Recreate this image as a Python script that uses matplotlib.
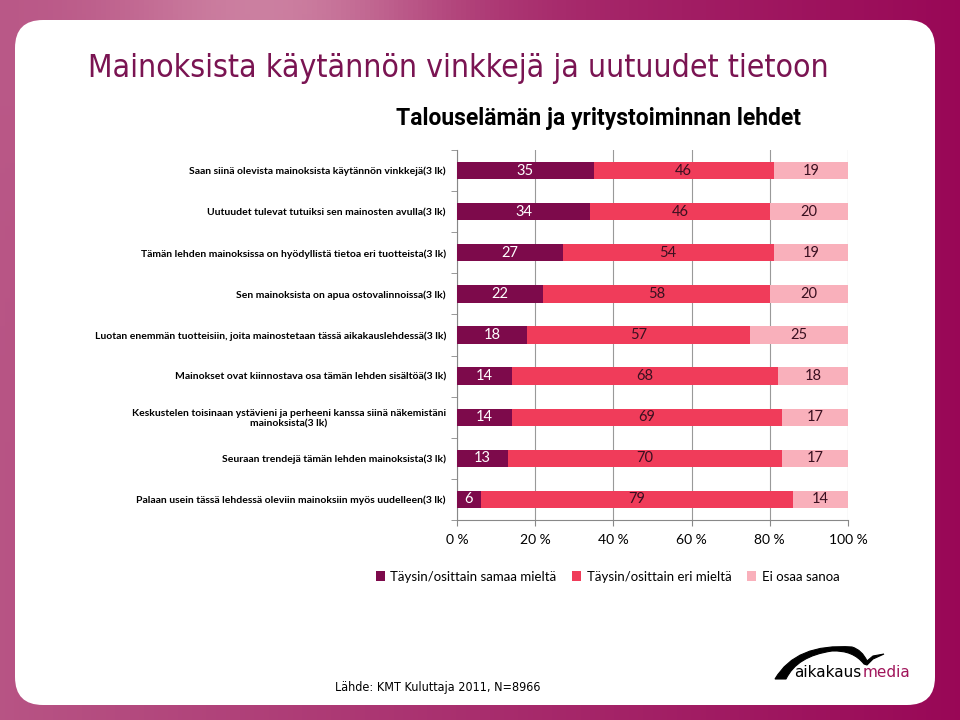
import numpy as np
import matplotlib
matplotlib.use("Agg")
import matplotlib.pyplot as plt
from matplotlib.patches import FancyBboxPatch, PathPatch
from matplotlib.path import Path

categories = [
    "Saan siinä olevista mainoksista käytännön vinkkejä(3 lk)",
    "Uutuudet tulevat tutuiksi sen mainosten avulla(3 lk)",
    "Tämän lehden mainoksissa on hyödyllistä tietoa eri tuotteista(3 lk)",
    "Sen mainoksista on apua ostovalinnoissa(3 lk)",
    "Luotan enemmän tuotteisiin, joita mainostetaan tässä aikakauslehdessä(3 lk)",
    "Mainokset ovat kiinnostava osa tämän lehden sisältöä(3 lk)",
    "Keskustelen toisinaan ystävieni ja perheeni kanssa siinä näkemistäni\nmainoksista(3 lk)",
    "Seuraan trendejä tämän lehden mainoksista(3 lk)",
    "Palaan usein tässä lehdessä oleviin mainoksiin myös uudelleen(3 lk)",
]
agree = [35, 34, 27, 22, 18, 14, 14, 13, 6]
disagree = [46, 46, 54, 58, 57, 68, 69, 70, 79]
dunno = [19, 20, 19, 20, 25, 18, 17, 17, 14]
series_names = ["Täysin/osittain samaa mieltä", "Täysin/osittain eri mieltä", "Ei osaa sanoa"]
xticklabels = ["0 %", "20 %", "40 %", "60 %", "80 %", "100 %"]

colors = ["#7d0a4b", "#f03c5a", "#f9b0bb"]
txtcolors = ["white", "#3a1020", "#3a1020"]

FONT = "Lato"
W, H = 960, 720
fig = plt.figure(figsize=(9.6, 7.2), dpi=100)

# background gradient
bg = fig.add_axes([0, 0, 1, 1])
bg.set_xlim(0, W); bg.set_ylim(H, 0); bg.axis("off")
xx, yy = np.meshgrid(np.linspace(0, 1, 200), np.linspace(0, 1, 150))
light = np.array([0.80, 0.50, 0.63])
mid = np.array([0.72, 0.33, 0.52])
dark = np.array([0.60, 0.03, 0.34])
t = np.clip(xx, 0, 1)
base = mid[None, None, :] * (1 - t[..., None]) + dark[None, None, :] * t[..., None]
spot = np.exp(-(((xx - 0.27) / 0.18) ** 2 + ((yy - 0.0) / 0.35) ** 2))
img = base * (1 - spot[..., None]) + light[None, None, :] * spot[..., None]
bg.imshow(img, extent=[0, W, H, 0], aspect="auto", zorder=0)
panel = FancyBboxPatch((15, 20), 920, 685, boxstyle="round,pad=0,rounding_size=28",
                       fc="white", ec="none", zorder=1)
bg.add_patch(panel)

fig.text(88 / W, 1 - 68 / H, "Mainoksista käytännön vinkkejä ja uutuudet tietoon",
         fontsize=22.9, color="#7a1452", family="DejaVu Sans", fontstretch="condensed",
         va="center", ha="left")
fig.text(598 / W, 1 - 118 / H, "Talouselämän ja yritystoiminnan lehdet",
         fontsize=16.5, fontweight="bold", color="black", family="Roboto",
         va="center", ha="center")

ax = fig.add_axes([457 / W, 1 - 520 / H, 391 / W, 370 / H])
n = len(categories)
ypos = np.arange(n)
totals = np.array(agree) + np.array(disagree) + np.array(dunno)
left = np.zeros(n)
for vals, c, tc, name in zip([agree, disagree, dunno], colors, txtcolors, series_names):
    v = np.array(vals, dtype=float)
    w = v / totals * 100
    ax.barh(ypos, w, left=left, height=0.42, color=c, label=name, zorder=3)
    for i in range(n):
        ax.text(left[i] + w[i] / 2, ypos[i], str(vals[i]), ha="center", va="center",
                fontsize=10.5, color=tc, family=FONT, zorder=4)
    left = left + w

ax.set_xlim(0, 100)
ax.set_ylim(n - 0.5, -0.5)
ax.set_xticks([0, 20, 40, 60, 80, 100])
ax.set_xticklabels(xticklabels, fontsize=10, family=FONT)
ax.set_yticks(ypos)
ax.set_yticklabels(categories, fontsize=7.5, family=FONT, fontweight="bold")
for lab in ax.get_yticklabels():
    lab.set_horizontalalignment("right")
    lab.set_multialignment("center")
ax.tick_params(axis="y", length=0, pad=8)
ax.set_yticks(np.arange(-0.5, n, 1), minor=True)
ax.tick_params(axis="y", which="minor", length=4, color="#888888", direction="out")
ax.tick_params(axis="x", length=4, color="#888888", pad=6)
ax.grid(axis="x", color="#999999", linewidth=0.8, zorder=0)
for s in ["top", "right"]:
    ax.spines[s].set_visible(False)
for s in ["left", "bottom"]:
    ax.spines[s].set_color("#888888")

ax.legend(loc="upper center", bbox_to_anchor=(0.385, -0.105), ncol=3, frameon=False,
          prop={"family": FONT, "size": 9.5}, handlelength=0.7, handleheight=0.7,
          columnspacing=1.2, handletextpad=0.4)

fig.text(335 / W, 1 - 688 / H, "Lähde: KMT Kuluttaja 2011, N=8966", fontsize=9,
         family="DejaVu Sans", fontstretch="condensed", va="center", ha="left")

# logo swoosh
verts = [(775, 679), (796, 643), (852, 647), (862, 650), (867, 661),
         (873, 656), (884, 654), (873, 659), (867, 665),
         (864, 664), (853, 650), (832, 651), (797, 656), (786, 679), (775, 679)]
codes = [Path.MOVETO, Path.CURVE3, Path.CURVE3, Path.CURVE3, Path.CURVE3,
         Path.LINETO, Path.LINETO, Path.LINETO, Path.LINETO,
         Path.LINETO, Path.CURVE3, Path.CURVE3, Path.CURVE3, Path.CURVE3, Path.CLOSEPOLY]
bg.add_patch(PathPatch(Path(verts, codes), fc="black", ec="black", lw=0.8, zorder=2))
t1 = bg.text(794, 677, "aikakaus", fontsize=11, family="DejaVu Sans", color="black",
             va="baseline", ha="left", zorder=3)
fig.canvas.draw()
bb = t1.get_window_extent()
x_end = bb.x1 + 1
fig.text(x_end / W, 1 - 677 / H, "media", fontsize=11, family="DejaVu Sans",
         color="#a0145a", va="baseline", ha="left", zorder=3)

fig.savefig("out.png", dpi=100)
